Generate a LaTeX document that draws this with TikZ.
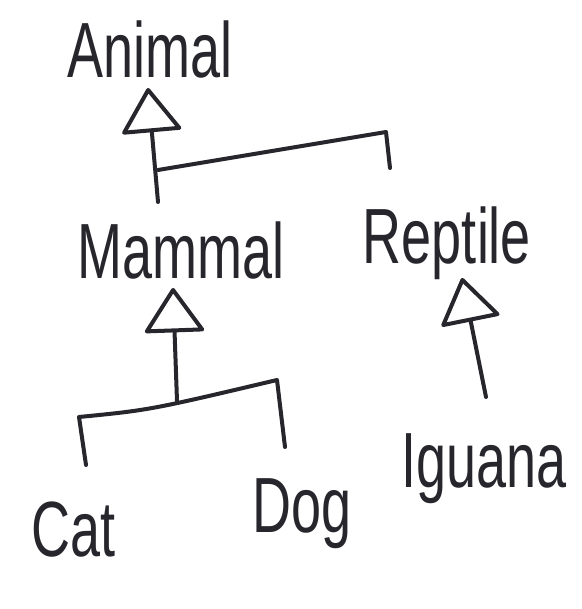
\documentclass[tikz,border=0pt]{standalone}
\usepackage{graphicx}
\usepackage{fontspec}
\setmainfont{Liberation Sans}
\usetikzlibrary{arrows.meta}
\definecolor{ink}{RGB}{38,38,44}
\newcommand{\tallword}[1]{\scalebox{1}[1.45]{#1}}

\begin{document}
\begin{tikzpicture}[x=1pt,y=-1pt,
	word/.style={inner sep=0pt,anchor=base,text=ink,
		font=\fontsize{54}{54}\selectfont},
	link/.style={draw=ink,line width=4pt,line cap=round,line join=round},
	isa/.style={link,-{Triangle[open,length=46pt,width=62pt,round]}}]
	\useasboundingbox (0,0) rectangle (581,609);
	
	% classes
	\node[word] (animal) at (150,78) {\tallword{Animal}};
	\node[word] (mammal) at (181,278) {\tallword{Mammal}};
	\node[word] (reptile) at (447,263) {\tallword{Reptile}};
	\node[word] (cat) at (74,556) {\tallword{Cat}};
	\node[word] (dog) at (302,532) {\tallword{Dog}};
	\node[word] (iguana) at (484,487) {\tallword{Iguana}};
	
	% Animal <- Mammal, Reptile
	\coordinate (a-tip) at (148,88);
	\coordinate (a-stem) at (158,202);
	\coordinate (a-join) at (158,170);
	\coordinate (a-bend) at (386,132);
	\coordinate (r-drop) at (390,168);
	\draw[isa] (a-stem) -- (a-tip);
	\draw[link] (a-join) -- (a-bend) -- (r-drop);
	
	% Mammal <- Cat, Dog
	\coordinate (m-tip) at (173,288);
	\coordinate (m-stem) at (177,401);
	\coordinate (c-bend) at (79,417);
	\coordinate (c-drop) at (86,465);
	\coordinate (d-bend) at (277,380);
	\coordinate (d-drop) at (285,447);
	\draw[isa] (m-stem) -- (m-tip);
	\draw[link] (c-drop) -- (c-bend) .. controls (150,410) .. (d-bend) -- (d-drop);
	
	% Reptile <- Iguana
	\coordinate (r-tip) at (462,278);
	\coordinate (i-end) at (486,397);
	\draw[isa] (i-end) -- (r-tip);
\end{tikzpicture}
\end{document}
